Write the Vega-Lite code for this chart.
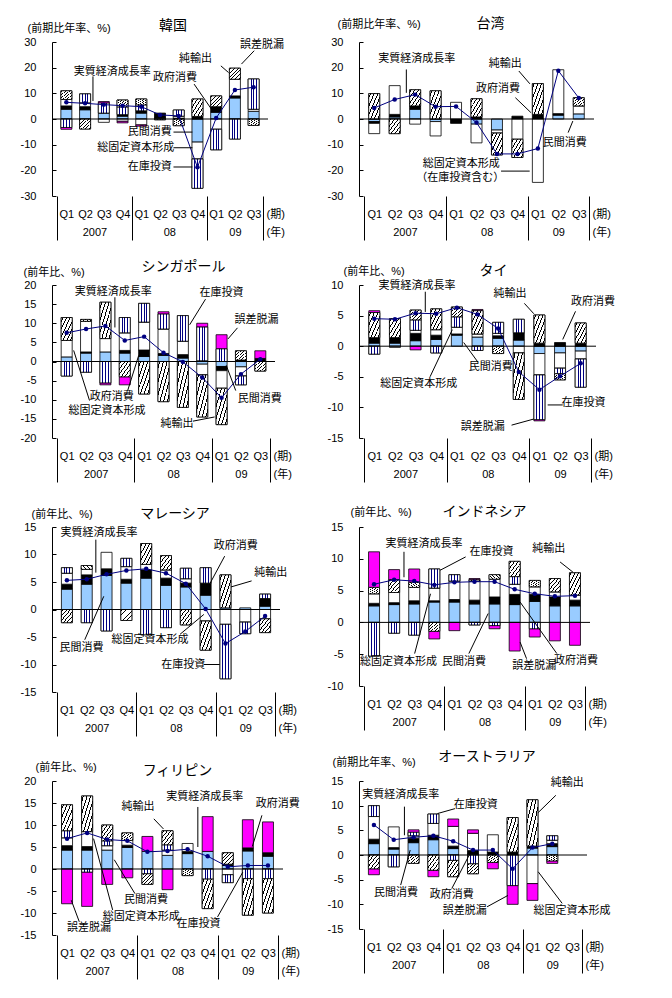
{
"$schema": "https://vega.github.io/schema/vega-lite/v6.json",
"autosize": {"type": "pad"},
"padding": {"left": 20, "top": 17, "right": 5, "bottom": 5},
"config": {
  "font": "Liberation Sans, Noto Sans CJK JP",
  "view": {"stroke": null},
  "axis": {"domainColor": "black", "tickColor": "black", "labelColor": "black", "titleColor": "black", "labelFontSize": 11, "titleFontSize": 11, "titleFontWeight": "normal", "grid": false, "labelOverlap": false},
  "axisY": {"tickSize": -4, "labelPadding": 20, "titleAngle": 0, "titleAlign": "left", "titleBaseline": "middle", "domainColor": "black"},
  "title": {"fontSize": 14, "fontWeight": "normal", "color": "black", "anchor": "middle", "frame": "group"},
  "text": {"fontSize": 11}
},
"datasets": {
  "comp": [{"k":"民間","o":1},{"k":"政府","o":2},{"k":"固定","o":3},{"k":"在庫","o":4},{"k":"純輸出","o":5},{"k":"誤差","o":6}],
  "bars": [
{"c":"韓国","i":0,"k":"民間","v":3.8},{"c":"韓国","i":0,"k":"政府","v":1.3},{"c":"韓国","i":0,"k":"固定","v":2.5},{"c":"韓国","i":0,"k":"在庫","v":-3.3},{"c":"韓国","i":0,"k":"純輸出","v":3.4},{"c":"韓国","i":0,"k":"誤差","v":-0.7},
{"c":"韓国","i":1,"k":"民間","v":3.6},{"c":"韓国","i":1,"k":"政府","v":1.2},{"c":"韓国","i":1,"k":"固定","v":1.5},{"c":"韓国","i":1,"k":"在庫","v":3.5},{"c":"韓国","i":1,"k":"純輸出","v":-3.9},
{"c":"韓国","i":2,"k":"民間","v":2.3},{"c":"韓国","i":2,"k":"固定","v":-1.3},{"c":"韓国","i":2,"k":"在庫","v":3.9},{"c":"韓国","i":2,"k":"誤差","v":0.6},
{"c":"韓国","i":3,"k":"民間","v":1.1},{"c":"韓国","i":3,"k":"政府","v":0.6},{"c":"韓国","i":3,"k":"固定","v":-0.9},{"c":"韓国","i":3,"k":"在庫","v":3.0},{"c":"韓国","i":3,"k":"純輸出","v":2.7},{"c":"韓国","i":3,"k":"誤差","v":-0.6},
{"c":"韓国","i":4,"k":"民間","v":2.3},{"c":"韓国","i":4,"k":"政府","v":0.9},{"c":"韓国","i":4,"k":"固定","v":-2.3},{"c":"韓国","i":4,"k":"在庫","v":2.3},{"c":"韓国","i":4,"k":"純輸出","v":2.3},{"c":"韓国","i":4,"k":"誤差","v":-0.5},
{"c":"韓国","i":5,"k":"民間","v":0.4},{"c":"韓国","i":5,"k":"政府","v":1.9},{"c":"韓国","i":5,"k":"在庫","v":-0.3},
{"c":"韓国","i":6,"k":"民間","v":0.3},{"c":"韓国","i":6,"k":"固定","v":0.8},{"c":"韓国","i":6,"k":"在庫","v":2.4},{"c":"韓国","i":6,"k":"純輸出","v":-2.6},
{"c":"韓国","i":7,"k":"民間","v":-9.0},{"c":"韓国","i":7,"k":"政府","v":1.0},{"c":"韓国","i":7,"k":"固定","v":-6.6},{"c":"韓国","i":7,"k":"在庫","v":-11.4},{"c":"韓国","i":7,"k":"純輸出","v":6.8},
{"c":"韓国","i":8,"k":"民間","v":2.6},{"c":"韓国","i":8,"k":"政府","v":2.2},{"c":"韓国","i":8,"k":"固定","v":-4.0},{"c":"韓国","i":8,"k":"在庫","v":-8.0},{"c":"韓国","i":8,"k":"純輸出","v":4.2},
{"c":"韓国","i":9,"k":"民間","v":8.2},{"c":"韓国","i":9,"k":"政府","v":0.8},{"c":"韓国","i":9,"k":"固定","v":6.5},{"c":"韓国","i":9,"k":"在庫","v":-7.8},{"c":"韓国","i":9,"k":"純輸出","v":4.3},
{"c":"韓国","i":10,"k":"民間","v":3.0},{"c":"韓国","i":10,"k":"固定","v":0.8},{"c":"韓国","i":10,"k":"在庫","v":11.8},{"c":"韓国","i":10,"k":"純輸出","v":-2.5},
{"c":"台湾","i":0,"k":"民間","v":-1.0},{"c":"台湾","i":0,"k":"政府","v":-0.7},{"c":"台湾","i":0,"k":"固定","v":-4.0},{"c":"台湾","i":0,"k":"純輸出","v":9.9},
{"c":"台湾","i":1,"k":"民間","v":0.8},{"c":"台湾","i":1,"k":"政府","v":1.0},{"c":"台湾","i":1,"k":"固定","v":11.2},{"c":"台湾","i":1,"k":"純輸出","v":-5.7},
{"c":"台湾","i":2,"k":"民間","v":3.8},{"c":"台湾","i":2,"k":"政府","v":1.3},{"c":"台湾","i":2,"k":"固定","v":-2.0},{"c":"台湾","i":2,"k":"純輸出","v":6.3},
{"c":"台湾","i":3,"k":"民間","v":-1.0},{"c":"台湾","i":3,"k":"固定","v":-5.6},{"c":"台湾","i":3,"k":"純輸出","v":11.0},
{"c":"台湾","i":4,"k":"政府","v":-1.7},{"c":"台湾","i":4,"k":"固定","v":6.5},
{"c":"台湾","i":5,"k":"民間","v":-2.0},{"c":"台湾","i":5,"k":"政府","v":0.8},{"c":"台湾","i":5,"k":"固定","v":-7.3},{"c":"台湾","i":5,"k":"純輸出","v":7.1},
{"c":"台湾","i":6,"k":"民間","v":-4.3},{"c":"台湾","i":6,"k":"固定","v":-1.2},{"c":"台湾","i":6,"k":"純輸出","v":-8.5},
{"c":"台湾","i":7,"k":"政府","v":1.1},{"c":"台湾","i":7,"k":"固定","v":-7.9},{"c":"台湾","i":7,"k":"純輸出","v":-7.1},
{"c":"台湾","i":8,"k":"政府","v":1.8},{"c":"台湾","i":8,"k":"固定","v":-24.7},{"c":"台湾","i":8,"k":"純輸出","v":12.0},
{"c":"台湾","i":9,"k":"民間","v":1.5},{"c":"台湾","i":9,"k":"政府","v":0.6},{"c":"台湾","i":9,"k":"固定","v":17.1},
{"c":"台湾","i":10,"k":"民間","v":2.0},{"c":"台湾","i":10,"k":"固定","v":3.1},{"c":"台湾","i":10,"k":"純輸出","v":3.2},
{"c":"シンガポール","i":0,"k":"民間","v":1.2},{"c":"シンガポール","i":0,"k":"固定","v":4.3},{"c":"シンガポール","i":0,"k":"在庫","v":-3.8},{"c":"シンガポール","i":0,"k":"純輸出","v":6.0},
{"c":"シンガポール","i":1,"k":"民間","v":2.2},{"c":"シンガポール","i":1,"k":"政府","v":0.3},{"c":"シンガポール","i":1,"k":"固定","v":8.0},{"c":"シンガポール","i":1,"k":"在庫","v":-2.8},{"c":"シンガポール","i":1,"k":"純輸出","v":0.5},
{"c":"シンガポール","i":2,"k":"民間","v":2.5},{"c":"シンガポール","i":2,"k":"固定","v":3.5},{"c":"シンガポール","i":2,"k":"在庫","v":-5.6},{"c":"シンガポール","i":2,"k":"純輸出","v":9.5},{"c":"シンガポール","i":2,"k":"誤差","v":-0.5},
{"c":"シンガポール","i":3,"k":"民間","v":2.2},{"c":"シンガポール","i":3,"k":"政府","v":0.7},{"c":"シンガポール","i":3,"k":"固定","v":4.6},{"c":"シンガポール","i":3,"k":"在庫","v":4.0},{"c":"シンガポール","i":3,"k":"純輸出","v":-4.0},{"c":"シンガポール","i":3,"k":"誤差","v":-2.1},
{"c":"シンガポール","i":4,"k":"民間","v":1.3},{"c":"シンガポール","i":4,"k":"政府","v":1.7},{"c":"シンガポール","i":4,"k":"固定","v":7.3},{"c":"シンガポール","i":4,"k":"在庫","v":4.9},{"c":"シンガポール","i":4,"k":"純輸出","v":-8.5},
{"c":"シンガポール","i":5,"k":"民間","v":1.6},{"c":"シンガポール","i":5,"k":"政府","v":0.5},{"c":"シンガポール","i":5,"k":"固定","v":6.4},{"c":"シンガポール","i":5,"k":"在庫","v":3.9},{"c":"シンガポール","i":5,"k":"純輸出","v":-10.5},{"c":"シンガポール","i":5,"k":"誤差","v":0.6},
{"c":"シンガポール","i":6,"k":"民間","v":0.9},{"c":"シンガポール","i":6,"k":"政府","v":0.9},{"c":"シンガポール","i":6,"k":"固定","v":3.5},{"c":"シンガポール","i":6,"k":"在庫","v":6.7},{"c":"シンガポール","i":6,"k":"純輸出","v":-12.0},
{"c":"シンガポール","i":7,"k":"民間","v":-0.7},{"c":"シンガポール","i":7,"k":"政府","v":0.2},{"c":"シンガポール","i":7,"k":"固定","v":-2.8},{"c":"シンガポール","i":7,"k":"在庫","v":8.8},{"c":"シンガポール","i":7,"k":"純輸出","v":-11.0},{"c":"シンガポール","i":7,"k":"誤差","v":1.0},
{"c":"シンガポール","i":8,"k":"民間","v":-1.3},{"c":"シンガポール","i":8,"k":"政府","v":-1.1},{"c":"シンガポール","i":8,"k":"固定","v":-4.6},{"c":"シンガポール","i":8,"k":"在庫","v":3.3},{"c":"シンガポール","i":8,"k":"純輸出","v":-9.5},{"c":"シンガポール","i":8,"k":"誤差","v":3.7},
{"c":"シンガポール","i":9,"k":"民間","v":-1.4},{"c":"シンガポール","i":9,"k":"政府","v":0.4},{"c":"シンガポール","i":9,"k":"固定","v":-2.4},{"c":"シンガポール","i":9,"k":"在庫","v":-2.3},{"c":"シンガポール","i":9,"k":"純輸出","v":2.4},
{"c":"シンガポール","i":10,"k":"政府","v":0.8},{"c":"シンガポール","i":10,"k":"純輸出","v":-2.5},{"c":"シンガポール","i":10,"k":"誤差","v":2.0},
{"c":"タイ","i":0,"k":"民間","v":0.5},{"c":"タイ","i":0,"k":"政府","v":0.9},{"c":"タイ","i":0,"k":"在庫","v":-1.3},{"c":"タイ","i":0,"k":"純輸出","v":4.1},{"c":"タイ","i":0,"k":"誤差","v":0.3},
{"c":"タイ","i":1,"k":"民間","v":0.5},{"c":"タイ","i":1,"k":"政府","v":0.9},{"c":"タイ","i":1,"k":"固定","v":-0.2},{"c":"タイ","i":1,"k":"純輸出","v":3.1},
{"c":"タイ","i":2,"k":"民間","v":0.9},{"c":"タイ","i":2,"k":"政府","v":1.2},{"c":"タイ","i":2,"k":"固定","v":0.5},{"c":"タイ","i":2,"k":"在庫","v":1.7},{"c":"タイ","i":2,"k":"純輸出","v":1.6},{"c":"タイ","i":2,"k":"誤差","v":-0.6},
{"c":"タイ","i":3,"k":"民間","v":1.1},{"c":"タイ","i":3,"k":"政府","v":0.7},{"c":"タイ","i":3,"k":"固定","v":0.9},{"c":"タイ","i":3,"k":"在庫","v":-1.1},{"c":"タイ","i":3,"k":"純輸出","v":3.4},
{"c":"タイ","i":4,"k":"民間","v":1.8},{"c":"タイ","i":4,"k":"政府","v":0.2},{"c":"タイ","i":4,"k":"固定","v":1.1},{"c":"タイ","i":4,"k":"在庫","v":1.7},{"c":"タイ","i":4,"k":"純輸出","v":1.6},
{"c":"タイ","i":5,"k":"民間","v":1.5},{"c":"タイ","i":5,"k":"固定","v":0.5},{"c":"タイ","i":5,"k":"在庫","v":-0.7},{"c":"タイ","i":5,"k":"純輸出","v":3.8},{"c":"タイ","i":5,"k":"誤差","v":0.2},
{"c":"タイ","i":6,"k":"民間","v":1.3},{"c":"タイ","i":6,"k":"政府","v":0.4},{"c":"タイ","i":6,"k":"固定","v":0.4},{"c":"タイ","i":6,"k":"在庫","v":1.8},{"c":"タイ","i":6,"k":"純輸出","v":-1.2},
{"c":"タイ","i":7,"k":"民間","v":1.0},{"c":"タイ","i":7,"k":"政府","v":1.2},{"c":"タイ","i":7,"k":"固定","v":-1.1},{"c":"タイ","i":7,"k":"在庫","v":2.2},{"c":"タイ","i":7,"k":"純輸出","v":-7.6},
{"c":"タイ","i":8,"k":"民間","v":-1.2},{"c":"タイ","i":8,"k":"政府","v":0.5},{"c":"タイ","i":8,"k":"固定","v":-3.5},{"c":"タイ","i":8,"k":"在庫","v":-7.3},{"c":"タイ","i":8,"k":"純輸出","v":4.6},{"c":"タイ","i":8,"k":"誤差","v":-0.2},
{"c":"タイ","i":9,"k":"民間","v":-1.1},{"c":"タイ","i":9,"k":"政府","v":0.6},{"c":"タイ","i":9,"k":"固定","v":-2.5},{"c":"タイ","i":9,"k":"在庫","v":-0.9},{"c":"タイ","i":9,"k":"純輸出","v":-1.0},
{"c":"タイ","i":10,"k":"民間","v":-0.8},{"c":"タイ","i":10,"k":"政府","v":0.5},{"c":"タイ","i":10,"k":"固定","v":-1.3},{"c":"タイ","i":10,"k":"在庫","v":-4.6},{"c":"タイ","i":10,"k":"純輸出","v":3.3},
{"c":"マレーシア","i":0,"k":"民間","v":3.7},{"c":"マレーシア","i":0,"k":"政府","v":0.9},{"c":"マレーシア","i":0,"k":"固定","v":2.0},{"c":"マレーシア","i":0,"k":"在庫","v":1.0},{"c":"マレーシア","i":0,"k":"純輸出","v":-2.4},
{"c":"マレーシア","i":1,"k":"民間","v":4.6},{"c":"マレーシア","i":1,"k":"政府","v":1.7},{"c":"マレーシア","i":1,"k":"固定","v":1.0},{"c":"マレーシア","i":1,"k":"在庫","v":-2.4},{"c":"マレーシア","i":1,"k":"純輸出","v":0.7},
{"c":"マレーシア","i":2,"k":"民間","v":6.2},{"c":"マレーシア","i":2,"k":"政府","v":1.2},{"c":"マレーシア","i":2,"k":"固定","v":3.0},{"c":"マレーシア","i":2,"k":"在庫","v":-3.9},
{"c":"マレーシア","i":3,"k":"民間","v":4.8},{"c":"マレーシア","i":3,"k":"政府","v":0.7},{"c":"マレーシア","i":3,"k":"固定","v":2.3},{"c":"マレーシア","i":3,"k":"在庫","v":1.5},{"c":"マレーシア","i":3,"k":"純輸出","v":-2.0},
{"c":"マレーシア","i":4,"k":"民間","v":5.7},{"c":"マレーシア","i":4,"k":"政府","v":1.5},{"c":"マレーシア","i":4,"k":"固定","v":1.0},{"c":"マレーシア","i":4,"k":"在庫","v":-4.6},{"c":"マレーシア","i":4,"k":"純輸出","v":3.8},
{"c":"マレーシア","i":5,"k":"民間","v":4.4},{"c":"マレーシア","i":5,"k":"政府","v":1.3},{"c":"マレーシア","i":5,"k":"固定","v":1.5},{"c":"マレーシア","i":5,"k":"在庫","v":-3.3},{"c":"マレーシア","i":5,"k":"純輸出","v":2.6},
{"c":"マレーシア","i":6,"k":"民間","v":4.1},{"c":"マレーシア","i":6,"k":"政府","v":0.7},{"c":"マレーシア","i":6,"k":"固定","v":0.8},{"c":"マレーシア","i":6,"k":"在庫","v":1.9},{"c":"マレーシア","i":6,"k":"純輸出","v":-2.8},
{"c":"マレーシア","i":7,"k":"民間","v":2.6},{"c":"マレーシア","i":7,"k":"政府","v":2.2},{"c":"マレーシア","i":7,"k":"固定","v":-2.1},{"c":"マレーシア","i":7,"k":"在庫","v":2.8},{"c":"マレーシア","i":7,"k":"純輸出","v":-5.3},
{"c":"マレーシア","i":8,"k":"民間","v":0.3},{"c":"マレーシア","i":8,"k":"固定","v":-2.7},{"c":"マレーシア","i":8,"k":"在庫","v":-9.9},{"c":"マレーシア","i":8,"k":"純輸出","v":6.0},
{"c":"マレーシア","i":9,"k":"民間","v":0.3},{"c":"マレーシア","i":9,"k":"固定","v":-2.3},{"c":"マレーシア","i":9,"k":"在庫","v":-2.1},
{"c":"マレーシア","i":10,"k":"民間","v":0.6},{"c":"マレーシア","i":10,"k":"政府","v":1.4},{"c":"マレーシア","i":10,"k":"固定","v":-1.7},{"c":"マレーシア","i":10,"k":"在庫","v":0.8},{"c":"マレーシア","i":10,"k":"純輸出","v":-2.5},
{"c":"インドネシア","i":0,"k":"民間","v":2.6},{"c":"インドネシア","i":0,"k":"政府","v":0.4},{"c":"インドネシア","i":0,"k":"固定","v":1.5},{"c":"インドネシア","i":0,"k":"在庫","v":-5.3},{"c":"インドネシア","i":0,"k":"純輸出","v":1.0},{"c":"インドネシア","i":0,"k":"誤差","v":5.6},
{"c":"インドネシア","i":1,"k":"民間","v":2.8},{"c":"インドネシア","i":1,"k":"政府","v":0.3},{"c":"インドネシア","i":1,"k":"固定","v":1.6},{"c":"インドネシア","i":1,"k":"在庫","v":-1.7},{"c":"インドネシア","i":1,"k":"純輸出","v":2.0},{"c":"インドネシア","i":1,"k":"誤差","v":1.6},
{"c":"インドネシア","i":2,"k":"民間","v":2.9},{"c":"インドネシア","i":2,"k":"政府","v":0.5},{"c":"インドネシア","i":2,"k":"固定","v":2.1},{"c":"インドネシア","i":2,"k":"在庫","v":-2.0},{"c":"インドネシア","i":2,"k":"純輸出","v":0.8},{"c":"インドネシア","i":2,"k":"誤差","v":2.1},
{"c":"インドネシア","i":3,"k":"民間","v":3.2},{"c":"インドネシア","i":3,"k":"政府","v":0.2},{"c":"インドネシア","i":3,"k":"固定","v":2.0},{"c":"インドネシア","i":3,"k":"在庫","v":3.0},{"c":"インドネシア","i":3,"k":"純輸出","v":-1.4},{"c":"インドネシア","i":3,"k":"誤差","v":-1.2},
{"c":"インドネシア","i":4,"k":"民間","v":3.2},{"c":"インドネシア","i":4,"k":"政府","v":0.4},{"c":"インドネシア","i":4,"k":"固定","v":2.9},{"c":"インドネシア","i":4,"k":"在庫","v":1.0},{"c":"インドネシア","i":4,"k":"誤差","v":-1.3},
{"c":"インドネシア","i":5,"k":"民間","v":2.9},{"c":"インドネシア","i":5,"k":"政府","v":0.6},{"c":"インドネシア","i":5,"k":"固定","v":3.0},{"c":"インドネシア","i":5,"k":"在庫","v":-0.4},{"c":"インドネシア","i":5,"k":"純輸出","v":0.2},{"c":"インドネシア","i":5,"k":"誤差","v":0.2},
{"c":"インドネシア","i":6,"k":"民間","v":2.9},{"c":"インドネシア","i":6,"k":"政府","v":1.1},{"c":"インドネシア","i":6,"k":"固定","v":2.8},{"c":"インドネシア","i":6,"k":"在庫","v":-0.5},{"c":"インドネシア","i":6,"k":"純輸出","v":0.7},{"c":"インドネシア","i":6,"k":"誤差","v":-0.5},
{"c":"インドネシア","i":7,"k":"民間","v":2.8},{"c":"インドネシア","i":7,"k":"政府","v":1.6},{"c":"インドネシア","i":7,"k":"固定","v":1.6},{"c":"インドネシア","i":7,"k":"在庫","v":1.2},{"c":"インドネシア","i":7,"k":"純輸出","v":2.4},{"c":"インドネシア","i":7,"k":"誤差","v":-4.5},
{"c":"インドネシア","i":8,"k":"民間","v":3.3},{"c":"インドネシア","i":8,"k":"政府","v":1.1},{"c":"インドネシア","i":8,"k":"固定","v":1.2},{"c":"インドネシア","i":8,"k":"在庫","v":-1.0},{"c":"インドネシア","i":8,"k":"純輸出","v":1.0},{"c":"インドネシア","i":8,"k":"誤差","v":-1.3},
{"c":"インドネシア","i":9,"k":"民間","v":2.6},{"c":"インドネシア","i":9,"k":"政府","v":1.4},{"c":"インドネシア","i":9,"k":"固定","v":0.8},{"c":"インドネシア","i":9,"k":"純輸出","v":2.1},{"c":"インドネシア","i":9,"k":"誤差","v":-2.9},
{"c":"インドネシア","i":10,"k":"民間","v":2.6},{"c":"インドネシア","i":10,"k":"政府","v":0.9},{"c":"インドネシア","i":10,"k":"固定","v":0.8},{"c":"インドネシア","i":10,"k":"純輸出","v":3.5},{"c":"インドネシア","i":10,"k":"誤差","v":-3.6},
{"c":"フィリピン","i":0,"k":"民間","v":4.3},{"c":"フィリピン","i":0,"k":"政府","v":1.0},{"c":"フィリピン","i":0,"k":"固定","v":1.8},{"c":"フィリピン","i":0,"k":"在庫","v":1.6},{"c":"フィリピン","i":0,"k":"純輸出","v":5.9},{"c":"フィリピン","i":0,"k":"誤差","v":-7.9},
{"c":"フィリピン","i":1,"k":"民間","v":4.3},{"c":"フィリピン","i":1,"k":"政府","v":0.8},{"c":"フィリピン","i":1,"k":"固定","v":3.4},{"c":"フィリピン","i":1,"k":"在庫","v":-0.7},{"c":"フィリピン","i":1,"k":"純輸出","v":8.1},{"c":"フィリピン","i":1,"k":"誤差","v":-7.8},
{"c":"フィリピン","i":2,"k":"民間","v":4.3},{"c":"フィリピン","i":2,"k":"固定","v":1.0},{"c":"フィリピン","i":2,"k":"在庫","v":1.1},{"c":"フィリピン","i":2,"k":"純輸出","v":3.6},{"c":"フィリピン","i":2,"k":"誤差","v":-3.5},
{"c":"フィリピン","i":3,"k":"民間","v":4.9},{"c":"フィリピン","i":3,"k":"政府","v":0.5},{"c":"フィリピン","i":3,"k":"固定","v":1.1},{"c":"フィリピン","i":3,"k":"純輸出","v":1.7},{"c":"フィリピン","i":3,"k":"誤差","v":-2.0},
{"c":"フィリピン","i":4,"k":"民間","v":4.0},{"c":"フィリピン","i":4,"k":"在庫","v":-1.1},{"c":"フィリピン","i":4,"k":"純輸出","v":-2.4},{"c":"フィリピン","i":4,"k":"誤差","v":3.4},
{"c":"フィリピン","i":5,"k":"民間","v":3.1},{"c":"フィリピン","i":5,"k":"固定","v":1.2},{"c":"フィリピン","i":5,"k":"在庫","v":1.2},{"c":"フィリピン","i":5,"k":"純輸出","v":3.2},{"c":"フィリピン","i":5,"k":"誤差","v":-4.7},
{"c":"フィリピン","i":6,"k":"民間","v":3.5},{"c":"フィリピン","i":6,"k":"政府","v":0.5},{"c":"フィリピン","i":6,"k":"固定","v":1.8},{"c":"フィリピン","i":6,"k":"純輸出","v":-1.5},
{"c":"フィリピン","i":7,"k":"民間","v":4.0},{"c":"フィリピン","i":7,"k":"在庫","v":-2.3},{"c":"フィリピン","i":7,"k":"純輸出","v":-6.7},{"c":"フィリピン","i":7,"k":"誤差","v":7.9},
{"c":"フィリピン","i":8,"k":"民間","v":0.8},{"c":"フィリピン","i":8,"k":"政府","v":0.3},{"c":"フィリピン","i":8,"k":"固定","v":-1.3},{"c":"フィリピン","i":8,"k":"在庫","v":-1.8},{"c":"フィリピン","i":8,"k":"純輸出","v":2.6},
{"c":"フィリピン","i":9,"k":"民間","v":4.1},{"c":"フィリピン","i":9,"k":"政府","v":0.7},{"c":"フィリピン","i":9,"k":"在庫","v":-2.2},{"c":"フィリピン","i":9,"k":"純輸出","v":-8.3},{"c":"フィリピン","i":9,"k":"誤差","v":6.4},
{"c":"フィリピン","i":10,"k":"民間","v":2.9},{"c":"フィリピン","i":10,"k":"政府","v":0.8},{"c":"フィリピン","i":10,"k":"在庫","v":-2.2},{"c":"フィリピン","i":10,"k":"純輸出","v":-7.8},{"c":"フィリピン","i":10,"k":"誤差","v":7.0},
{"c":"オーストラリア","i":0,"k":"民間","v":2.3},{"c":"オーストラリア","i":0,"k":"政府","v":0.9},{"c":"オーストラリア","i":0,"k":"固定","v":4.6},{"c":"オーストラリア","i":0,"k":"在庫","v":2.2},{"c":"オーストラリア","i":0,"k":"純輸出","v":-2.8},{"c":"オーストラリア","i":0,"k":"誤差","v":-1.2},
{"c":"オーストラリア","i":1,"k":"民間","v":1.2},{"c":"オーストラリア","i":1,"k":"政府","v":0.3},{"c":"オーストラリア","i":1,"k":"固定","v":4.2},{"c":"オーストラリア","i":1,"k":"在庫","v":-2.4},
{"c":"オーストラリア","i":2,"k":"民間","v":2.5},{"c":"オーストラリア","i":2,"k":"政府","v":0.9},{"c":"オーストラリア","i":2,"k":"固定","v":0.5},{"c":"オーストラリア","i":2,"k":"在庫","v":0.7},{"c":"オーストラリア","i":2,"k":"純輸出","v":-1.7},{"c":"オーストラリア","i":2,"k":"誤差","v":0.5},
{"c":"オーストラリア","i":3,"k":"民間","v":3.1},{"c":"オーストラリア","i":3,"k":"政府","v":0.9},{"c":"オーストラリア","i":3,"k":"固定","v":2.4},{"c":"オーストラリア","i":3,"k":"在庫","v":1.9},{"c":"オーストラリア","i":3,"k":"純輸出","v":-3.1},{"c":"オーストラリア","i":3,"k":"誤差","v":-1.3},
{"c":"オーストラリア","i":4,"k":"民間","v":1.3},{"c":"オーストラリア","i":4,"k":"政府","v":0.5},{"c":"オーストラリア","i":4,"k":"固定","v":4.0},{"c":"オーストラリア","i":4,"k":"在庫","v":-1.1},{"c":"オーストラリア","i":4,"k":"純輸出","v":-3.3},{"c":"オーストラリア","i":4,"k":"誤差","v":1.5},
{"c":"オーストラリア","i":5,"k":"民間","v":0.2},{"c":"オーストラリア","i":5,"k":"政府","v":0.7},{"c":"オーストラリア","i":5,"k":"固定","v":3.5},{"c":"オーストラリア","i":5,"k":"在庫","v":-1.8},{"c":"オーストラリア","i":5,"k":"純輸出","v":-2.0},{"c":"オーストラリア","i":5,"k":"誤差","v":0.7},
{"c":"オーストラリア","i":6,"k":"政府","v":0.6},{"c":"オーストラリア","i":6,"k":"固定","v":3.5},{"c":"オーストラリア","i":6,"k":"純輸出","v":-1.5},{"c":"オーストラリア","i":6,"k":"誤差","v":-1.3},
{"c":"オーストラリア","i":7,"k":"政府","v":0.6},{"c":"オーストラリア","i":7,"k":"在庫","v":-6.2},{"c":"オーストラリア","i":7,"k":"純輸出","v":7.0},{"c":"オーストラリア","i":7,"k":"誤差","v":-3.8},
{"c":"オーストラリア","i":8,"k":"民間","v":1.4},{"c":"オーストラリア","i":8,"k":"政府","v":0.4},{"c":"オーストラリア","i":8,"k":"固定","v":-5.8},{"c":"オーストラリア","i":8,"k":"純輸出","v":9.4},{"c":"オーストラリア","i":8,"k":"誤差","v":-3.4},
{"c":"オーストラリア","i":9,"k":"民間","v":1.7},{"c":"オーストラリア","i":9,"k":"政府","v":0.6},{"c":"オーストラリア","i":9,"k":"固定","v":0.7},{"c":"オーストラリア","i":9,"k":"在庫","v":0.9},{"c":"オーストラリア","i":9,"k":"純輸出","v":-1.2},{"c":"オーストラリア","i":9,"k":"誤差","v":-0.5}
  ],
  "g": [
{"c":"韓国","i":0,"g":6.5},{"c":"韓国","i":1,"g":6.1},{"c":"韓国","i":2,"g":5.6},{"c":"韓国","i":3,"g":5.2},{"c":"韓国","i":4,"g":4.8},{"c":"韓国","i":5,"g":1.6},{"c":"韓国","i":6,"g":1.2},{"c":"韓国","i":7,"g":-18.8},{"c":"韓国","i":8,"g":0.4},{"c":"韓国","i":9,"g":11.3},{"c":"韓国","i":10,"g":12.4},
{"c":"台湾","i":0,"g":4.3},{"c":"台湾","i":1,"g":7.6},{"c":"台湾","i":2,"g":9.5},{"c":"台湾","i":3,"g":4.8},{"c":"台湾","i":4,"g":4.9},{"c":"台湾","i":5,"g":-1.4},{"c":"台湾","i":6,"g":-13.6},{"c":"台湾","i":7,"g":-13.6},{"c":"台湾","i":8,"g":-11.5},{"c":"台湾","i":9,"g":18.8},{"c":"台湾","i":10,"g":8.2},
{"c":"シンガポール","i":0,"g":7.5},{"c":"シンガポール","i":1,"g":8.5},{"c":"シンガポール","i":2,"g":9.3},{"c":"シンガポール","i":3,"g":5.5},{"c":"シンガポール","i":4,"g":6.5},{"c":"シンガポール","i":5,"g":2.3},{"c":"シンガポール","i":6,"g":-0.1},{"c":"シンガポール","i":7,"g":-4.2},{"c":"シンガポール","i":8,"g":-9.5},{"c":"シンガポール","i":9,"g":-3.3},{"c":"シンガポール","i":10,"g":0.6},
{"c":"タイ","i":0,"g":4.5},{"c":"タイ","i":1,"g":4.4},{"c":"タイ","i":2,"g":5.4},{"c":"タイ","i":3,"g":5.3},{"c":"タイ","i":4,"g":6.3},{"c":"タイ","i":5,"g":5.2},{"c":"タイ","i":6,"g":2.9},{"c":"タイ","i":7,"g":-4.2},{"c":"タイ","i":8,"g":-7.1},{"c":"タイ","i":9,"g":-4.9},{"c":"タイ","i":10,"g":-2.8},
{"c":"マレーシア","i":0,"g":5.3},{"c":"マレーシア","i":1,"g":5.5},{"c":"マレーシア","i":2,"g":6.4},{"c":"マレーシア","i":3,"g":7.1},{"c":"マレーシア","i":4,"g":7.4},{"c":"マレーシア","i":5,"g":6.6},{"c":"マレーシア","i":6,"g":4.7},{"c":"マレーシア","i":7,"g":0.1},{"c":"マレーシア","i":8,"g":-6.2},{"c":"マレーシア","i":9,"g":-4.0},{"c":"マレーシア","i":10,"g":-1.2},
{"c":"インドネシア","i":0,"g":6.0},{"c":"インドネシア","i":1,"g":6.7},{"c":"インドネシア","i":2,"g":6.5},{"c":"インドネシア","i":3,"g":5.9},{"c":"インドネシア","i":4,"g":6.3},{"c":"インドネシア","i":5,"g":6.4},{"c":"インドネシア","i":6,"g":6.4},{"c":"インドネシア","i":7,"g":5.2},{"c":"インドネシア","i":8,"g":4.5},{"c":"インドネシア","i":9,"g":4.1},{"c":"インドネシア","i":10,"g":4.2},
{"c":"フィリピン","i":0,"g":6.9},{"c":"フィリピン","i":1,"g":8.2},{"c":"フィリピン","i":2,"g":6.7},{"c":"フィリピン","i":3,"g":6.4},{"c":"フィリピン","i":4,"g":3.9},{"c":"フィリピン","i":5,"g":4.1},{"c":"フィリピン","i":6,"g":4.5},{"c":"フィリピン","i":7,"g":2.9},{"c":"フィリピン","i":8,"g":0.5},{"c":"フィリピン","i":9,"g":0.8},{"c":"フィリピン","i":10,"g":0.8},
{"c":"オーストラリア","i":0,"g":6.1},{"c":"オーストラリア","i":1,"g":3.1},{"c":"オーストラリア","i":2,"g":3.6},{"c":"オーストラリア","i":3,"g":3.9},{"c":"オーストラリア","i":4,"g":2.8},{"c":"オーストラリア","i":5,"g":1.0},{"c":"オーストラリア","i":6,"g":1.0},{"c":"オーストラリア","i":7,"g":-2.8},{"c":"オーストラリア","i":8,"g":1.5},{"c":"オーストラリア","i":9,"g":2.3}
  ],
  "notes": [
{"c":"韓国","t":"実質経済成長率","tx":2.45,"ty":18.5,"x1":1.42,"y1":16.6,"x2":1.42,"y2":7.0},
{"c":"韓国","t":"政府消費","tx":5.8,"ty":15.9,"x1":6.82,"y1":13.6,"x2":7.75,"y2":3.8},
{"c":"韓国","t":"純輸出","tx":6.9,"ty":23.4,"x1":8.25,"y1":20.7,"x2":8.66,"y2":18.1},
{"c":"韓国","t":"誤差脱漏","tx":10.45,"ty":28.8,"x1":10.03,"y1":26.6,"x2":9.35,"y2":21.4},
{"c":"韓国","t":"民間消費","tx":4.45,"ty":-4.9,"x1":5.72,"y1":-5.1,"x2":6.73,"y2":-5.1},
{"c":"韓国","t":"総固定資本形成","tx":3.7,"ty":-11.2,"x1":5.72,"y1":-11.2,"x2":6.73,"y2":-11.2},
{"c":"韓国","t":"在庫投資","tx":4.45,"ty":-18.7,"x1":5.72,"y1":-18.7,"x2":6.73,"y2":-18.7},
{"c":"台湾","t":"実質経済成長率","tx":2.08,"ty":23.2,"x1":1.57,"y1":19.3,"x2":1.57,"y2":10.2},
{"c":"台湾","t":"純輸出","tx":6.41,"ty":21.3,"x1":7.07,"y1":18.7,"x2":7.61,"y2":13.7},
{"c":"台湾","t":"政府消費","tx":6.05,"ty":11.5,"x1":6.9,"y1":8.3,"x2":7.66,"y2":2.5},
{"c":"台湾","t":"民間消費","tx":9.32,"ty":-9.2,"x1":9.48,"y1":-5.3,"x2":9.71,"y2":-0.8},
{"c":"台湾","t":"総固定資本形成","tx":4.26,"ty":-17.7,"x1":6.2,"y1":-20.3,"x2":7.6,"y2":-20.3},
{"c":"台湾","t":"（在庫投資含む）","tx":4.2,"ty":-22.9},
{"c":"シンガポール","t":"実質経済成長率","tx":2.41,"ty":18.3,"x1":2.49,"y1":16.8,"x2":2.49,"y2":8.9},
{"c":"シンガポール","t":"在庫投資","tx":8.0,"ty":17.8,"x1":7.17,"y1":16.3,"x2":6.35,"y2":9.6},
{"c":"シンガポール","t":"誤差脱漏","tx":9.8,"ty":10.9,"x1":8.82,"y1":8.8,"x2":8.33,"y2":5.9},
{"c":"シンガポール","t":"政府消費","tx":2.33,"ty":-9.3,"x1":3.15,"y1":-7.6,"x2":3.72,"y2":1.6},
{"c":"シンガポール","t":"総固定資本形成","tx":2.08,"ty":-13.0,"x1":1.18,"y1":-10.2,"x2":0.36,"y2":2.9},
{"c":"シンガポール","t":"民間消費","tx":9.97,"ty":-9.7,"x1":8.73,"y1":-7.6,"x2":8.24,"y2":-1.0},
{"c":"シンガポール","t":"純輸出","tx":5.7,"ty":-16.3,"x1":6.52,"y1":-15.6,"x2":7.64,"y2":-14.5},
{"c":"タイ","t":"実質経済成長率","tx":2.07,"ty":9.9,"x1":2.47,"y1":8.9,"x2":2.47,"y2":5.6},
{"c":"タイ","t":"純輸出","tx":6.57,"ty":8.6,"x1":7.27,"y1":7.0,"x2":7.73,"y2":5.3},
{"c":"タイ","t":"政府消費","tx":10.6,"ty":7.3,"x1":9.75,"y1":5.7,"x2":9.13,"y2":1.1},
{"c":"タイ","t":"総固定資本形成","tx":2.15,"ty":-6.1,"x1":2.7,"y1":-5.0,"x2":3.78,"y2":2.7},
{"c":"タイ","t":"民間消費","tx":5.64,"ty":-3.4,"x1":5.02,"y1":-2.6,"x2":4.33,"y2":0.6},
{"c":"タイ","t":"在庫投資","tx":10.14,"ty":-9.3,"x1":9.13,"y1":-9.6,"x2":8.4,"y2":-9.6},
{"c":"タイ","t":"誤差脱漏","tx":5.26,"ty":-13.2,"x1":6.65,"y1":-12.9,"x2":7.73,"y2":-11.9},
{"c":"マレーシア","t":"実質経済成長率","tx":1.62,"ty":13.9,"x1":1.46,"y1":12.7,"x2":1.46,"y2":6.7},
{"c":"マレーシア","t":"政府消費","tx":8.52,"ty":11.5,"x1":7.96,"y1":9.7,"x2":7.23,"y2":4.8},
{"c":"マレーシア","t":"純輸出","tx":10.28,"ty":6.7,"x1":9.32,"y1":5.2,"x2":8.28,"y2":4.1},
{"c":"マレーシア","t":"民間消費","tx":0.74,"ty":-7.0,"x1":0.9,"y1":-5.5,"x2":1.86,"y2":2.4},
{"c":"マレーシア","t":"総固定資本形成","tx":4.19,"ty":-5.5,"x1":5.71,"y1":-4.5,"x2":6.91,"y2":-0.9},
{"c":"マレーシア","t":"在庫投資","tx":5.87,"ty":-10.0,"x1":6.91,"y1":-10.0,"x2":7.71,"y2":-10.0},
{"c":"インドネシア","t":"実質経済成長率","tx":2.49,"ty":12.4,"x1":1.49,"y1":11.1,"x2":1.49,"y2":7.1},
{"c":"インドネシア","t":"在庫投資","tx":5.84,"ty":11.1,"x1":4.56,"y1":10.3,"x2":3.29,"y2":8.2},
{"c":"インドネシア","t":"純輸出","tx":8.7,"ty":11.6,"x1":9.26,"y1":9.5,"x2":9.9,"y2":7.9},
{"c":"インドネシア","t":"総固定資本形成","tx":1.22,"ty":-6.3,"x1":2.02,"y1":-4.9,"x2":2.81,"y2":4.5},
{"c":"インドネシア","t":"民間消費","tx":4.48,"ty":-6.3,"x1":4.72,"y1":-4.9,"x2":5.68,"y2":1.4},
{"c":"インドネシア","t":"誤差脱漏","tx":7.98,"ty":-6.8,"x1":7.59,"y1":-5.7,"x2":7.27,"y2":-3.1},
{"c":"インドネシア","t":"政府消費","tx":10.05,"ty":-6.1,"x1":9.1,"y1":-4.9,"x2":7.27,"y2":3.2},
{"c":"フィリピン","t":"純輸出","tx":3.53,"ty":14.1,"x1":4.32,"y1":11.4,"x2":4.8,"y2":9.1},
{"c":"フィリピン","t":"実質経済成長率","tx":6.85,"ty":16.3,"x1":6.51,"y1":14.1,"x2":6.51,"y2":5.0},
{"c":"フィリピン","t":"政府消費","tx":10.49,"ty":14.8,"x1":9.7,"y1":12.2,"x2":9.22,"y2":5.1},
{"c":"フィリピン","t":"民間消費","tx":3.93,"ty":-7.1,"x1":3.38,"y1":-5.6,"x2":2.35,"y2":2.1},
{"c":"フィリピン","t":"総固定資本形成","tx":3.69,"ty":-10.9,"x1":2.27,"y1":-9.3,"x2":1.32,"y2":6.9},
{"c":"フィリピン","t":"誤差脱漏","tx":1.09,"ty":-13.5,"x1":0.61,"y1":-12.0,"x2":0.21,"y2":-7.1},
{"c":"フィリピン","t":"在庫投資","tx":6.54,"ty":-12.4,"x1":7.49,"y1":-10.9,"x2":8.75,"y2":-0.7},
{"c":"オーストラリア","t":"実質経済成長率","tx":1.35,"ty":12.1,"x1":1.54,"y1":9.8,"x2":1.54,"y2":4.0},
{"c":"オーストラリア","t":"在庫投資","tx":5.14,"ty":10.2,"x1":4.09,"y1":9.4,"x2":3.21,"y2":8.4},
{"c":"オーストラリア","t":"純輸出","tx":9.75,"ty":14.5,"x1":9.18,"y1":12.1,"x2":8.29,"y2":8.6},
{"c":"オーストラリア","t":"民間消費","tx":1.11,"ty":-7.8,"x1":1.35,"y1":-6.1,"x2":1.83,"y2":1.0},
{"c":"オーストラリア","t":"政府消費","tx":3.93,"ty":-8.1,"x1":3.93,"y1":-6.8,"x2":4.9,"y2":0.7},
{"c":"オーストラリア","t":"誤差脱漏","tx":4.58,"ty":-11.3,"x1":5.71,"y1":-10.5,"x2":6.76,"y2":-8.2},
{"c":"オーストラリア","t":"総固定資本形成","tx":9.99,"ty":-11.3,"x1":9.5,"y1":-9.8,"x2":8.29,"y2":-3.4}
  ]
},
"columns": 2,
"spacing": {"row": 89, "column": 76},
"bounds": "flush",
"concat": [
  {"width": 216, "height": 154, "title": {"text": "韓国", "dx": 13, "offset": -11},
   "layer": [
    {"data": {"name": "bars"},
     "transform": [{"filter": "datum.c == '韓国'"}, {"lookup": "k", "from": {"data": {"name": "comp"}, "key": "k", "fields": ["o"]}}, {"stack": "v", "groupby": ["i"], "sort": [{"field": "o", "order": "ascending"}], "as": ["v0", "v1"]}],
     "encoding": {
      "x": {"field": "i", "type": "quantitative", "scale": {"domain": [-0.5, 10.5], "nice": false, "zero": false}, "axis": {"values": [-0.5,0,1,1.5,2,3,3.5,4,5,5.5,6,7,7.5,8,9,10,10.5], "tickCount": 100, "labelExpr": "datum.value==1.5?['','2007']:datum.value==5.5?['','08']:datum.value==9?['Q2','09']:datum.value==10.5?['(期)','(年)']:datum.value%1==0?'Q'+(datum.value%4+1):''", "title": null, "domain": false, "grid": false, "tickSize": 44, "tickColor": "black", "tickWidth": 1, "tickOpacity": {"condition": {"test": "datum.value==-0.5||datum.value==3.5||datum.value==7.5||datum.value==10.5", "value": 1}, "value": 0}, "labelPadding": -32, "labelLineHeight": 18, "labelBaseline": "top", "labelAlign": {"condition": {"test": "datum.value==10.5", "value": "left"}, "value": "center"}, "labelOffset": {"condition": {"test": "datum.value==10.5", "value": 3}, "value": 0}, "labelFlush": false, "labelOverlap": false, "labelBound": false}},
      "y": {"field": "v0", "type": "quantitative", "scale": {"domain": [-30, 30], "nice": false, "zero": false}, "axis": {"values": [-30,-20,-10,0,10,20,30], "tickCount": 100, "labelOverlap": false, "labelExpr": "''+datum.value", "title": "(前期比年率、%)", "titleX": -25, "titleY": -14}},
      "y2": {"field": "v1"}
     },
     "layer": [
      {"mark": {"type": "bar", "width": 11, "stroke": "black", "strokeWidth": 0.8}, "encoding": {"fill": {"field": "k", "type": "nominal", "scale": {"domain": ["民間","政府","固定","在庫","純輸出","誤差"], "range": ["#99CCFF","#000000","#FFFFFF","#FFFFFF","#FFFFFF","#FF00FF"]}, "legend": null}}},
      {"transform": [{"filter": "datum.k == '在庫'"}], "mark": {"type": "bar", "width": 11, "stroke": "black", "strokeWidth": 0.8, "fill": {"gradient": "linear", "x1": 0, "y1": 0, "x2": 1, "y2": 0, "stops": [{"offset": 0, "color": "#ffffff"}, {"offset": 0.22, "color": "#ffffff"}, {"offset": 0.22, "color": "#000080"}, {"offset": 0.31, "color": "#000080"}, {"offset": 0.31, "color": "#ffffff"}, {"offset": 0.46, "color": "#ffffff"}, {"offset": 0.46, "color": "#000080"}, {"offset": 0.55, "color": "#000080"}, {"offset": 0.55, "color": "#ffffff"}, {"offset": 0.7, "color": "#ffffff"}, {"offset": 0.7, "color": "#000080"}, {"offset": 0.79, "color": "#000080"}, {"offset": 0.79, "color": "#ffffff"}, {"offset": 1, "color": "#ffffff"}]}}},
      {"transform": [{"filter": "datum.k == '純輸出'"}], "mark": {"type": "bar", "width": 11, "stroke": "black", "strokeWidth": 0.8, "fill": {"gradient": "linear", "x1": 0, "y1": 0, "x2": 1, "y2": 1, "stops": [{"offset": 0, "color": "#ffffff"}, {"offset": 0.06, "color": "#ffffff"}, {"offset": 0.06, "color": "#000000"}, {"offset": 0.105, "color": "#000000"}, {"offset": 0.105, "color": "#ffffff"}, {"offset": 0.227, "color": "#ffffff"}, {"offset": 0.227, "color": "#000000"}, {"offset": 0.272, "color": "#000000"}, {"offset": 0.272, "color": "#ffffff"}, {"offset": 0.393, "color": "#ffffff"}, {"offset": 0.393, "color": "#000000"}, {"offset": 0.438, "color": "#000000"}, {"offset": 0.438, "color": "#ffffff"}, {"offset": 0.56, "color": "#ffffff"}, {"offset": 0.56, "color": "#000000"}, {"offset": 0.605, "color": "#000000"}, {"offset": 0.605, "color": "#ffffff"}, {"offset": 0.727, "color": "#ffffff"}, {"offset": 0.727, "color": "#000000"}, {"offset": 0.772, "color": "#000000"}, {"offset": 0.772, "color": "#ffffff"}, {"offset": 0.893, "color": "#ffffff"}, {"offset": 0.893, "color": "#000000"}, {"offset": 0.938, "color": "#000000"}, {"offset": 0.938, "color": "#ffffff"}, {"offset": 1, "color": "#ffffff"}]}}}
     ]},
    {"data": {"values": [{}]}, "mark": {"type": "rule", "color": "black", "strokeWidth": 1}, "encoding": {"y": {"datum": 0, "type": "quantitative"}}},
    {"data": {"name": "g"}, "transform": [{"filter": "datum.c == '韓国'"}], "mark": {"type": "line", "color": "#000080", "strokeWidth": 1, "point": {"filled": true, "size": 20, "color": "#000080"}}, "encoding": {"x": {"field": "i", "type": "quantitative"}, "y": {"field": "g", "type": "quantitative"}}},
    {"data": {"name": "notes"}, "transform": [{"filter": "datum.c == '韓国' && isValid(datum.x1)"}], "mark": {"type": "rule", "color": "black", "strokeWidth": 1}, "encoding": {"x": {"field": "x1", "type": "quantitative"}, "y": {"field": "y1", "type": "quantitative"}, "x2": {"field": "x2"}, "y2": {"field": "y2"}}},
    {"data": {"name": "notes"}, "transform": [{"filter": "datum.c == '韓国'"}], "mark": {"type": "text", "fontSize": 11, "color": "black"}, "encoding": {"x": {"field": "tx", "type": "quantitative"}, "y": {"field": "ty", "type": "quantitative"}, "text": {"field": "t"}}}
   ]},
  {"width": 235, "height": 154, "title": {"text": "台湾", "dx": 14, "offset": -13},
   "layer": [
    {"data": {"name": "bars"},
     "transform": [{"filter": "datum.c == '台湾'"}, {"lookup": "k", "from": {"data": {"name": "comp"}, "key": "k", "fields": ["o"]}}, {"stack": "v", "groupby": ["i"], "sort": [{"field": "o", "order": "ascending"}], "as": ["v0", "v1"]}],
     "encoding": {
      "x": {"field": "i", "type": "quantitative", "scale": {"domain": [-0.5, 10.5], "nice": false, "zero": false}, "axis": {"values": [-0.5,0,1,1.5,2,3,3.5,4,5,5.5,6,7,7.5,8,9,10,10.5], "tickCount": 100, "labelExpr": "datum.value==1.5?['','2007']:datum.value==5.5?['','08']:datum.value==9?['Q2','09']:datum.value==10.5?['(期)','(年)']:datum.value%1==0?'Q'+(datum.value%4+1):''", "title": null, "domain": false, "grid": false, "tickSize": 44, "tickColor": "black", "tickWidth": 1, "tickOpacity": {"condition": {"test": "datum.value==-0.5||datum.value==3.5||datum.value==7.5||datum.value==10.5", "value": 1}, "value": 0}, "labelPadding": -32, "labelLineHeight": 18, "labelBaseline": "top", "labelAlign": {"condition": {"test": "datum.value==10.5", "value": "left"}, "value": "center"}, "labelOffset": {"condition": {"test": "datum.value==10.5", "value": 3}, "value": 0}, "labelFlush": false, "labelOverlap": false, "labelBound": false}},
      "y": {"field": "v0", "type": "quantitative", "scale": {"domain": [-30, 30], "nice": false, "zero": false}, "axis": {"values": [-30,-20,-10,0,10,20,30], "tickCount": 100, "labelOverlap": false, "labelExpr": "''+datum.value", "title": "(前期比年率、%)", "titleX": -22, "titleY": -17.6}},
      "y2": {"field": "v1"}
     },
     "layer": [
      {"mark": {"type": "bar", "width": 11, "stroke": "black", "strokeWidth": 0.8}, "encoding": {"fill": {"field": "k", "type": "nominal", "scale": {"domain": ["民間","政府","固定","在庫","純輸出","誤差"], "range": ["#99CCFF","#000000","#FFFFFF","#FFFFFF","#FFFFFF","#FF00FF"]}, "legend": null}}},
      {"transform": [{"filter": "datum.k == '純輸出'"}], "mark": {"type": "bar", "width": 11, "stroke": "black", "strokeWidth": 0.8, "fill": {"gradient": "linear", "x1": 0, "y1": 0, "x2": 1, "y2": 1, "stops": [{"offset": 0, "color": "#ffffff"}, {"offset": 0.06, "color": "#ffffff"}, {"offset": 0.06, "color": "#000000"}, {"offset": 0.105, "color": "#000000"}, {"offset": 0.105, "color": "#ffffff"}, {"offset": 0.227, "color": "#ffffff"}, {"offset": 0.227, "color": "#000000"}, {"offset": 0.272, "color": "#000000"}, {"offset": 0.272, "color": "#ffffff"}, {"offset": 0.393, "color": "#ffffff"}, {"offset": 0.393, "color": "#000000"}, {"offset": 0.438, "color": "#000000"}, {"offset": 0.438, "color": "#ffffff"}, {"offset": 0.56, "color": "#ffffff"}, {"offset": 0.56, "color": "#000000"}, {"offset": 0.605, "color": "#000000"}, {"offset": 0.605, "color": "#ffffff"}, {"offset": 0.727, "color": "#ffffff"}, {"offset": 0.727, "color": "#000000"}, {"offset": 0.772, "color": "#000000"}, {"offset": 0.772, "color": "#ffffff"}, {"offset": 0.893, "color": "#ffffff"}, {"offset": 0.893, "color": "#000000"}, {"offset": 0.938, "color": "#000000"}, {"offset": 0.938, "color": "#ffffff"}, {"offset": 1, "color": "#ffffff"}]}}}
     ]},
    {"data": {"values": [{}]}, "mark": {"type": "rule", "color": "black", "strokeWidth": 1}, "encoding": {"y": {"datum": 0, "type": "quantitative"}}},
    {"data": {"name": "g"}, "transform": [{"filter": "datum.c == '台湾'"}], "mark": {"type": "line", "color": "#000080", "strokeWidth": 1, "point": {"filled": true, "size": 20, "color": "#000080"}}, "encoding": {"x": {"field": "i", "type": "quantitative"}, "y": {"field": "g", "type": "quantitative"}}},
    {"data": {"name": "notes"}, "transform": [{"filter": "datum.c == '台湾' && isValid(datum.x1)"}], "mark": {"type": "rule", "color": "black", "strokeWidth": 1}, "encoding": {"x": {"field": "x1", "type": "quantitative"}, "y": {"field": "y1", "type": "quantitative"}, "x2": {"field": "x2"}, "y2": {"field": "y2"}}},
    {"data": {"name": "notes"}, "transform": [{"filter": "datum.c == '台湾'"}], "mark": {"type": "text", "fontSize": 11, "color": "black"}, "encoding": {"x": {"field": "tx", "type": "quantitative"}, "y": {"field": "ty", "type": "quantitative"}, "text": {"field": "t"}}}
   ]},
  {"width": 223, "height": 153, "title": {"text": "シンガポール", "dx": 20, "offset": -8},
   "layer": [
    {"data": {"name": "bars"},
     "transform": [{"filter": "datum.c == 'シンガポール'"}, {"lookup": "k", "from": {"data": {"name": "comp"}, "key": "k", "fields": ["o"]}}, {"stack": "v", "groupby": ["i"], "sort": [{"field": "o", "order": "ascending"}], "as": ["v0", "v1"]}],
     "encoding": {
      "x": {"field": "i", "type": "quantitative", "scale": {"domain": [-0.5, 10.5], "nice": false, "zero": false}, "axis": {"values": [-0.5,0,1,1.5,2,3,3.5,4,5,5.5,6,7,7.5,8,9,10,10.5], "tickCount": 100, "labelExpr": "datum.value==1.5?['','2007']:datum.value==5.5?['','08']:datum.value==9?['Q2','09']:datum.value==10.5?['(期)','(年)']:datum.value%1==0?'Q'+(datum.value%4+1):''", "title": null, "domain": false, "grid": false, "tickSize": 44, "tickColor": "black", "tickWidth": 1, "tickOpacity": {"condition": {"test": "datum.value==-0.5||datum.value==3.5||datum.value==7.5||datum.value==10.5", "value": 1}, "value": 0}, "labelPadding": -32, "labelLineHeight": 18, "labelBaseline": "top", "labelAlign": {"condition": {"test": "datum.value==10.5", "value": "left"}, "value": "center"}, "labelOffset": {"condition": {"test": "datum.value==10.5", "value": 3}, "value": 0}, "labelFlush": false, "labelOverlap": false, "labelBound": false}},
      "y": {"field": "v0", "type": "quantitative", "scale": {"domain": [-20, 20], "nice": false, "zero": false}, "axis": {"values": [-20,-15,-10,-5,0,5,10,15,20], "tickCount": 100, "labelOverlap": false, "labelExpr": "''+datum.value", "title": "(前年比、%)", "titleX": -29, "titleY": -12.6}},
      "y2": {"field": "v1"}
     },
     "layer": [
      {"mark": {"type": "bar", "width": 11, "stroke": "black", "strokeWidth": 0.8}, "encoding": {"fill": {"field": "k", "type": "nominal", "scale": {"domain": ["民間","政府","固定","在庫","純輸出","誤差"], "range": ["#99CCFF","#000000","#FFFFFF","#FFFFFF","#FFFFFF","#FF00FF"]}, "legend": null}}},
      {"transform": [{"filter": "datum.k == '在庫'"}], "mark": {"type": "bar", "width": 11, "stroke": "black", "strokeWidth": 0.8, "fill": {"gradient": "linear", "x1": 0, "y1": 0, "x2": 1, "y2": 0, "stops": [{"offset": 0, "color": "#ffffff"}, {"offset": 0.22, "color": "#ffffff"}, {"offset": 0.22, "color": "#000080"}, {"offset": 0.31, "color": "#000080"}, {"offset": 0.31, "color": "#ffffff"}, {"offset": 0.46, "color": "#ffffff"}, {"offset": 0.46, "color": "#000080"}, {"offset": 0.55, "color": "#000080"}, {"offset": 0.55, "color": "#ffffff"}, {"offset": 0.7, "color": "#ffffff"}, {"offset": 0.7, "color": "#000080"}, {"offset": 0.79, "color": "#000080"}, {"offset": 0.79, "color": "#ffffff"}, {"offset": 1, "color": "#ffffff"}]}}},
      {"transform": [{"filter": "datum.k == '純輸出'"}], "mark": {"type": "bar", "width": 11, "stroke": "black", "strokeWidth": 0.8, "fill": {"gradient": "linear", "x1": 0, "y1": 0, "x2": 1, "y2": 1, "stops": [{"offset": 0, "color": "#ffffff"}, {"offset": 0.06, "color": "#ffffff"}, {"offset": 0.06, "color": "#000000"}, {"offset": 0.105, "color": "#000000"}, {"offset": 0.105, "color": "#ffffff"}, {"offset": 0.227, "color": "#ffffff"}, {"offset": 0.227, "color": "#000000"}, {"offset": 0.272, "color": "#000000"}, {"offset": 0.272, "color": "#ffffff"}, {"offset": 0.393, "color": "#ffffff"}, {"offset": 0.393, "color": "#000000"}, {"offset": 0.438, "color": "#000000"}, {"offset": 0.438, "color": "#ffffff"}, {"offset": 0.56, "color": "#ffffff"}, {"offset": 0.56, "color": "#000000"}, {"offset": 0.605, "color": "#000000"}, {"offset": 0.605, "color": "#ffffff"}, {"offset": 0.727, "color": "#ffffff"}, {"offset": 0.727, "color": "#000000"}, {"offset": 0.772, "color": "#000000"}, {"offset": 0.772, "color": "#ffffff"}, {"offset": 0.893, "color": "#ffffff"}, {"offset": 0.893, "color": "#000000"}, {"offset": 0.938, "color": "#000000"}, {"offset": 0.938, "color": "#ffffff"}, {"offset": 1, "color": "#ffffff"}]}}}
     ]},
    {"data": {"values": [{}]}, "mark": {"type": "rule", "color": "black", "strokeWidth": 1}, "encoding": {"y": {"datum": 0, "type": "quantitative"}}},
    {"data": {"name": "g"}, "transform": [{"filter": "datum.c == 'シンガポール'"}], "mark": {"type": "line", "color": "#000080", "strokeWidth": 1, "point": {"filled": true, "size": 20, "color": "#000080"}}, "encoding": {"x": {"field": "i", "type": "quantitative"}, "y": {"field": "g", "type": "quantitative"}}},
    {"data": {"name": "notes"}, "transform": [{"filter": "datum.c == 'シンガポール' && isValid(datum.x1)"}], "mark": {"type": "rule", "color": "black", "strokeWidth": 1}, "encoding": {"x": {"field": "x1", "type": "quantitative"}, "y": {"field": "y1", "type": "quantitative"}, "x2": {"field": "x2"}, "y2": {"field": "y2"}}},
    {"data": {"name": "notes"}, "transform": [{"filter": "datum.c == 'シンガポール'"}], "mark": {"type": "text", "fontSize": 11, "color": "black"}, "encoding": {"x": {"field": "tx", "type": "quantitative"}, "y": {"field": "ty", "type": "quantitative"}, "text": {"field": "t"}}}
   ]},
  {"width": 237, "height": 153, "title": {"text": "タイ", "dx": 16, "offset": -13},
   "layer": [
    {"data": {"name": "bars"},
     "transform": [{"filter": "datum.c == 'タイ'"}, {"lookup": "k", "from": {"data": {"name": "comp"}, "key": "k", "fields": ["o"]}}, {"stack": "v", "groupby": ["i"], "sort": [{"field": "o", "order": "ascending"}], "as": ["v0", "v1"]}],
     "encoding": {
      "x": {"field": "i", "type": "quantitative", "scale": {"domain": [-0.5, 10.5], "nice": false, "zero": false}, "axis": {"values": [-0.5,0,1,1.5,2,3,3.5,4,5,5.5,6,7,7.5,8,9,10,10.5], "tickCount": 100, "labelExpr": "datum.value==1.5?['','2007']:datum.value==5.5?['','08']:datum.value==9?['Q2','09']:datum.value==10.5?['(期)','(年)']:datum.value%1==0?'Q'+(datum.value%4+1):''", "title": null, "domain": false, "grid": false, "tickSize": 44, "tickColor": "black", "tickWidth": 1, "tickOpacity": {"condition": {"test": "datum.value==-0.5||datum.value==3.5||datum.value==7.5||datum.value==10.5", "value": 1}, "value": 0}, "labelPadding": -32, "labelLineHeight": 18, "labelBaseline": "top", "labelAlign": {"condition": {"test": "datum.value==10.5", "value": "left"}, "value": "center"}, "labelOffset": {"condition": {"test": "datum.value==10.5", "value": 3}, "value": 0}, "labelFlush": false, "labelOverlap": false, "labelBound": false}},
      "y": {"field": "v0", "type": "quantitative", "scale": {"domain": [-15, 10], "nice": false, "zero": false}, "axis": {"values": [-15,-10,-5,0,5,10], "tickCount": 100, "labelOverlap": false, "labelExpr": "''+datum.value", "title": "(前年比、%)", "titleX": -16, "titleY": -14}},
      "y2": {"field": "v1"}
     },
     "layer": [
      {"mark": {"type": "bar", "width": 11, "stroke": "black", "strokeWidth": 0.8}, "encoding": {"fill": {"field": "k", "type": "nominal", "scale": {"domain": ["民間","政府","固定","在庫","純輸出","誤差"], "range": ["#99CCFF","#000000","#FFFFFF","#FFFFFF","#FFFFFF","#FF00FF"]}, "legend": null}}},
      {"transform": [{"filter": "datum.k == '在庫'"}], "mark": {"type": "bar", "width": 11, "stroke": "black", "strokeWidth": 0.8, "fill": {"gradient": "linear", "x1": 0, "y1": 0, "x2": 1, "y2": 0, "stops": [{"offset": 0, "color": "#ffffff"}, {"offset": 0.22, "color": "#ffffff"}, {"offset": 0.22, "color": "#000080"}, {"offset": 0.31, "color": "#000080"}, {"offset": 0.31, "color": "#ffffff"}, {"offset": 0.46, "color": "#ffffff"}, {"offset": 0.46, "color": "#000080"}, {"offset": 0.55, "color": "#000080"}, {"offset": 0.55, "color": "#ffffff"}, {"offset": 0.7, "color": "#ffffff"}, {"offset": 0.7, "color": "#000080"}, {"offset": 0.79, "color": "#000080"}, {"offset": 0.79, "color": "#ffffff"}, {"offset": 1, "color": "#ffffff"}]}}},
      {"transform": [{"filter": "datum.k == '純輸出'"}], "mark": {"type": "bar", "width": 11, "stroke": "black", "strokeWidth": 0.8, "fill": {"gradient": "linear", "x1": 0, "y1": 0, "x2": 1, "y2": 1, "stops": [{"offset": 0, "color": "#ffffff"}, {"offset": 0.06, "color": "#ffffff"}, {"offset": 0.06, "color": "#000000"}, {"offset": 0.105, "color": "#000000"}, {"offset": 0.105, "color": "#ffffff"}, {"offset": 0.227, "color": "#ffffff"}, {"offset": 0.227, "color": "#000000"}, {"offset": 0.272, "color": "#000000"}, {"offset": 0.272, "color": "#ffffff"}, {"offset": 0.393, "color": "#ffffff"}, {"offset": 0.393, "color": "#000000"}, {"offset": 0.438, "color": "#000000"}, {"offset": 0.438, "color": "#ffffff"}, {"offset": 0.56, "color": "#ffffff"}, {"offset": 0.56, "color": "#000000"}, {"offset": 0.605, "color": "#000000"}, {"offset": 0.605, "color": "#ffffff"}, {"offset": 0.727, "color": "#ffffff"}, {"offset": 0.727, "color": "#000000"}, {"offset": 0.772, "color": "#000000"}, {"offset": 0.772, "color": "#ffffff"}, {"offset": 0.893, "color": "#ffffff"}, {"offset": 0.893, "color": "#000000"}, {"offset": 0.938, "color": "#000000"}, {"offset": 0.938, "color": "#ffffff"}, {"offset": 1, "color": "#ffffff"}]}}}
     ]},
    {"data": {"values": [{}]}, "mark": {"type": "rule", "color": "black", "strokeWidth": 1}, "encoding": {"y": {"datum": 0, "type": "quantitative"}}},
    {"data": {"name": "g"}, "transform": [{"filter": "datum.c == 'タイ'"}], "mark": {"type": "line", "color": "#000080", "strokeWidth": 1, "point": {"filled": true, "size": 20, "color": "#000080"}}, "encoding": {"x": {"field": "i", "type": "quantitative"}, "y": {"field": "g", "type": "quantitative"}}},
    {"data": {"name": "notes"}, "transform": [{"filter": "datum.c == 'タイ' && isValid(datum.x1)"}], "mark": {"type": "rule", "color": "black", "strokeWidth": 1}, "encoding": {"x": {"field": "x1", "type": "quantitative"}, "y": {"field": "y1", "type": "quantitative"}, "x2": {"field": "x2"}, "y2": {"field": "y2"}}},
    {"data": {"name": "notes"}, "transform": [{"filter": "datum.c == 'タイ'"}], "mark": {"type": "text", "fontSize": 11, "color": "black"}, "encoding": {"x": {"field": "tx", "type": "quantitative"}, "y": {"field": "ty", "type": "quantitative"}, "text": {"field": "t"}}}
   ]},
  {"width": 228, "height": 165, "title": {"text": "マレーシア", "dx": 9, "offset": -13},
   "layer": [
    {"data": {"name": "bars"},
     "transform": [{"filter": "datum.c == 'マレーシア'"}, {"lookup": "k", "from": {"data": {"name": "comp"}, "key": "k", "fields": ["o"]}}, {"stack": "v", "groupby": ["i"], "sort": [{"field": "o", "order": "ascending"}], "as": ["v0", "v1"]}],
     "encoding": {
      "x": {"field": "i", "type": "quantitative", "scale": {"domain": [-0.5, 10.5], "nice": false, "zero": false}, "axis": {"values": [-0.5,0,1,1.5,2,3,3.5,4,5,5.5,6,7,7.5,8,9,10,10.5], "tickCount": 100, "labelExpr": "datum.value==1.5?['','2007']:datum.value==5.5?['','08']:datum.value==9?['Q2','09']:datum.value==10.5?['(期)','(年)']:datum.value%1==0?'Q'+(datum.value%4+1):''", "title": null, "domain": false, "grid": false, "tickSize": 44, "tickColor": "black", "tickWidth": 1, "tickOpacity": {"condition": {"test": "datum.value==-0.5||datum.value==3.5||datum.value==7.5||datum.value==10.5", "value": 1}, "value": 0}, "labelPadding": -32, "labelLineHeight": 18, "labelBaseline": "top", "labelAlign": {"condition": {"test": "datum.value==10.5", "value": "left"}, "value": "center"}, "labelOffset": {"condition": {"test": "datum.value==10.5", "value": 3}, "value": 0}, "labelFlush": false, "labelOverlap": false, "labelBound": false}},
      "y": {"field": "v0", "type": "quantitative", "scale": {"domain": [-15, 15], "nice": false, "zero": false}, "axis": {"values": [-15,-10,-5,0,5,10,15], "tickCount": 100, "labelOverlap": false, "labelExpr": "''+datum.value", "title": "(前年比、%)", "titleX": -21, "titleY": -12.7}},
      "y2": {"field": "v1"}
     },
     "layer": [
      {"mark": {"type": "bar", "width": 11, "stroke": "black", "strokeWidth": 0.8}, "encoding": {"fill": {"field": "k", "type": "nominal", "scale": {"domain": ["民間","政府","固定","在庫","純輸出","誤差"], "range": ["#99CCFF","#000000","#FFFFFF","#FFFFFF","#FFFFFF","#FF00FF"]}, "legend": null}}},
      {"transform": [{"filter": "datum.k == '在庫'"}], "mark": {"type": "bar", "width": 11, "stroke": "black", "strokeWidth": 0.8, "fill": {"gradient": "linear", "x1": 0, "y1": 0, "x2": 1, "y2": 0, "stops": [{"offset": 0, "color": "#ffffff"}, {"offset": 0.22, "color": "#ffffff"}, {"offset": 0.22, "color": "#000080"}, {"offset": 0.31, "color": "#000080"}, {"offset": 0.31, "color": "#ffffff"}, {"offset": 0.46, "color": "#ffffff"}, {"offset": 0.46, "color": "#000080"}, {"offset": 0.55, "color": "#000080"}, {"offset": 0.55, "color": "#ffffff"}, {"offset": 0.7, "color": "#ffffff"}, {"offset": 0.7, "color": "#000080"}, {"offset": 0.79, "color": "#000080"}, {"offset": 0.79, "color": "#ffffff"}, {"offset": 1, "color": "#ffffff"}]}}},
      {"transform": [{"filter": "datum.k == '純輸出'"}], "mark": {"type": "bar", "width": 11, "stroke": "black", "strokeWidth": 0.8, "fill": {"gradient": "linear", "x1": 0, "y1": 0, "x2": 1, "y2": 1, "stops": [{"offset": 0, "color": "#ffffff"}, {"offset": 0.06, "color": "#ffffff"}, {"offset": 0.06, "color": "#000000"}, {"offset": 0.105, "color": "#000000"}, {"offset": 0.105, "color": "#ffffff"}, {"offset": 0.227, "color": "#ffffff"}, {"offset": 0.227, "color": "#000000"}, {"offset": 0.272, "color": "#000000"}, {"offset": 0.272, "color": "#ffffff"}, {"offset": 0.393, "color": "#ffffff"}, {"offset": 0.393, "color": "#000000"}, {"offset": 0.438, "color": "#000000"}, {"offset": 0.438, "color": "#ffffff"}, {"offset": 0.56, "color": "#ffffff"}, {"offset": 0.56, "color": "#000000"}, {"offset": 0.605, "color": "#000000"}, {"offset": 0.605, "color": "#ffffff"}, {"offset": 0.727, "color": "#ffffff"}, {"offset": 0.727, "color": "#000000"}, {"offset": 0.772, "color": "#000000"}, {"offset": 0.772, "color": "#ffffff"}, {"offset": 0.893, "color": "#ffffff"}, {"offset": 0.893, "color": "#000000"}, {"offset": 0.938, "color": "#000000"}, {"offset": 0.938, "color": "#ffffff"}, {"offset": 1, "color": "#ffffff"}]}}}
     ]},
    {"data": {"values": [{}]}, "mark": {"type": "rule", "color": "black", "strokeWidth": 1}, "encoding": {"y": {"datum": 0, "type": "quantitative"}}},
    {"data": {"name": "g"}, "transform": [{"filter": "datum.c == 'マレーシア'"}], "mark": {"type": "line", "color": "#000080", "strokeWidth": 1, "point": {"filled": true, "size": 20, "color": "#000080"}}, "encoding": {"x": {"field": "i", "type": "quantitative"}, "y": {"field": "g", "type": "quantitative"}}},
    {"data": {"name": "notes"}, "transform": [{"filter": "datum.c == 'マレーシア' && isValid(datum.x1)"}], "mark": {"type": "rule", "color": "black", "strokeWidth": 1}, "encoding": {"x": {"field": "x1", "type": "quantitative"}, "y": {"field": "y1", "type": "quantitative"}, "x2": {"field": "x2"}, "y2": {"field": "y2"}}},
    {"data": {"name": "notes"}, "transform": [{"filter": "datum.c == 'マレーシア'"}], "mark": {"type": "text", "fontSize": 11, "color": "black"}, "encoding": {"x": {"field": "tx", "type": "quantitative"}, "y": {"field": "ty", "type": "quantitative"}, "text": {"field": "t"}}}
   ]},
  {"width": 231, "height": 159, "title": {"text": "インドネシア", "dx": 10, "offset": -13},
   "layer": [
    {"data": {"name": "bars"},
     "transform": [{"filter": "datum.c == 'インドネシア'"}, {"lookup": "k", "from": {"data": {"name": "comp"}, "key": "k", "fields": ["o"]}}, {"stack": "v", "groupby": ["i"], "sort": [{"field": "o", "order": "ascending"}], "as": ["v0", "v1"]}],
     "encoding": {
      "x": {"field": "i", "type": "quantitative", "scale": {"domain": [-0.5, 10.5], "nice": false, "zero": false}, "axis": {"values": [-0.5,0,1,1.5,2,3,3.5,4,5,5.5,6,7,7.5,8,9,10,10.5], "tickCount": 100, "labelExpr": "datum.value==1.5?['','2007']:datum.value==5.5?['','08']:datum.value==9?['Q2','09']:datum.value==10.5?['(期)','(年)']:datum.value%1==0?'Q'+(datum.value%4+1):''", "title": null, "domain": false, "grid": false, "tickSize": 44, "tickColor": "black", "tickWidth": 1, "tickOpacity": {"condition": {"test": "datum.value==-0.5||datum.value==3.5||datum.value==7.5||datum.value==10.5", "value": 1}, "value": 0}, "labelPadding": -32, "labelLineHeight": 18, "labelBaseline": "top", "labelAlign": {"condition": {"test": "datum.value==10.5", "value": "left"}, "value": "center"}, "labelOffset": {"condition": {"test": "datum.value==10.5", "value": 3}, "value": 0}, "labelFlush": false, "labelOverlap": false, "labelBound": false}},
      "y": {"field": "v0", "type": "quantitative", "scale": {"domain": [-10, 15], "nice": false, "zero": false}, "axis": {"values": [-10,-5,0,5,10,15], "tickCount": 100, "labelOverlap": false, "labelExpr": "''+datum.value", "title": "(前年比、%)", "titleX": -9, "titleY": -15}},
      "y2": {"field": "v1"}
     },
     "layer": [
      {"mark": {"type": "bar", "width": 11, "stroke": "black", "strokeWidth": 0.8}, "encoding": {"fill": {"field": "k", "type": "nominal", "scale": {"domain": ["民間","政府","固定","在庫","純輸出","誤差"], "range": ["#99CCFF","#000000","#FFFFFF","#FFFFFF","#FFFFFF","#FF00FF"]}, "legend": null}}},
      {"transform": [{"filter": "datum.k == '在庫'"}], "mark": {"type": "bar", "width": 11, "stroke": "black", "strokeWidth": 0.8, "fill": {"gradient": "linear", "x1": 0, "y1": 0, "x2": 1, "y2": 0, "stops": [{"offset": 0, "color": "#ffffff"}, {"offset": 0.22, "color": "#ffffff"}, {"offset": 0.22, "color": "#000080"}, {"offset": 0.31, "color": "#000080"}, {"offset": 0.31, "color": "#ffffff"}, {"offset": 0.46, "color": "#ffffff"}, {"offset": 0.46, "color": "#000080"}, {"offset": 0.55, "color": "#000080"}, {"offset": 0.55, "color": "#ffffff"}, {"offset": 0.7, "color": "#ffffff"}, {"offset": 0.7, "color": "#000080"}, {"offset": 0.79, "color": "#000080"}, {"offset": 0.79, "color": "#ffffff"}, {"offset": 1, "color": "#ffffff"}]}}},
      {"transform": [{"filter": "datum.k == '純輸出'"}], "mark": {"type": "bar", "width": 11, "stroke": "black", "strokeWidth": 0.8, "fill": {"gradient": "linear", "x1": 0, "y1": 0, "x2": 1, "y2": 1, "stops": [{"offset": 0, "color": "#ffffff"}, {"offset": 0.06, "color": "#ffffff"}, {"offset": 0.06, "color": "#000000"}, {"offset": 0.105, "color": "#000000"}, {"offset": 0.105, "color": "#ffffff"}, {"offset": 0.227, "color": "#ffffff"}, {"offset": 0.227, "color": "#000000"}, {"offset": 0.272, "color": "#000000"}, {"offset": 0.272, "color": "#ffffff"}, {"offset": 0.393, "color": "#ffffff"}, {"offset": 0.393, "color": "#000000"}, {"offset": 0.438, "color": "#000000"}, {"offset": 0.438, "color": "#ffffff"}, {"offset": 0.56, "color": "#ffffff"}, {"offset": 0.56, "color": "#000000"}, {"offset": 0.605, "color": "#000000"}, {"offset": 0.605, "color": "#ffffff"}, {"offset": 0.727, "color": "#ffffff"}, {"offset": 0.727, "color": "#000000"}, {"offset": 0.772, "color": "#000000"}, {"offset": 0.772, "color": "#ffffff"}, {"offset": 0.893, "color": "#ffffff"}, {"offset": 0.893, "color": "#000000"}, {"offset": 0.938, "color": "#000000"}, {"offset": 0.938, "color": "#ffffff"}, {"offset": 1, "color": "#ffffff"}]}}}
     ]},
    {"data": {"values": [{}]}, "mark": {"type": "rule", "color": "black", "strokeWidth": 1}, "encoding": {"y": {"datum": 0, "type": "quantitative"}}},
    {"data": {"name": "g"}, "transform": [{"filter": "datum.c == 'インドネシア'"}], "mark": {"type": "line", "color": "#000080", "strokeWidth": 1, "point": {"filled": true, "size": 20, "color": "#000080"}}, "encoding": {"x": {"field": "i", "type": "quantitative"}, "y": {"field": "g", "type": "quantitative"}}},
    {"data": {"name": "notes"}, "transform": [{"filter": "datum.c == 'インドネシア' && isValid(datum.x1)"}], "mark": {"type": "rule", "color": "black", "strokeWidth": 1}, "encoding": {"x": {"field": "x1", "type": "quantitative"}, "y": {"field": "y1", "type": "quantitative"}, "x2": {"field": "x2"}, "y2": {"field": "y2"}}},
    {"data": {"name": "notes"}, "transform": [{"filter": "datum.c == 'インドネシア'"}], "mark": {"type": "text", "fontSize": 11, "color": "black"}, "encoding": {"x": {"field": "tx", "type": "quantitative"}, "y": {"field": "ty", "type": "quantitative"}, "text": {"field": "t"}}}
   ]},
  {"width": 231, "height": 154, "title": {"text": "フィリピン", "dx": 10, "offset": -16},
   "layer": [
    {"data": {"name": "bars"},
     "transform": [{"filter": "datum.c == 'フィリピン'"}, {"lookup": "k", "from": {"data": {"name": "comp"}, "key": "k", "fields": ["o"]}}, {"stack": "v", "groupby": ["i"], "sort": [{"field": "o", "order": "ascending"}], "as": ["v0", "v1"]}],
     "encoding": {
      "x": {"field": "i", "type": "quantitative", "scale": {"domain": [-0.5, 10.5], "nice": false, "zero": false}, "axis": {"values": [-0.5,0,1,1.5,2,3,3.5,4,5,5.5,6,7,7.5,8,9,10,10.5], "tickCount": 100, "labelExpr": "datum.value==1.5?['','2007']:datum.value==5.5?['','08']:datum.value==9?['Q2','09']:datum.value==10.5?['(期)','(年)']:datum.value%1==0?'Q'+(datum.value%4+1):''", "title": null, "domain": false, "grid": false, "tickSize": 44, "tickColor": "black", "tickWidth": 1, "tickOpacity": {"condition": {"test": "datum.value==-0.5||datum.value==3.5||datum.value==7.5||datum.value==10.5", "value": 1}, "value": 0}, "labelPadding": -32, "labelLineHeight": 18, "labelBaseline": "top", "labelAlign": {"condition": {"test": "datum.value==10.5", "value": "left"}, "value": "center"}, "labelOffset": {"condition": {"test": "datum.value==10.5", "value": 3}, "value": 0}, "labelFlush": false, "labelOverlap": false, "labelBound": false}},
      "y": {"field": "v0", "type": "quantitative", "scale": {"domain": [-15, 20], "nice": false, "zero": false}, "axis": {"values": [-15,-10,-5,0,5,10,15,20], "tickCount": 100, "labelOverlap": false, "labelExpr": "''+datum.value", "title": "(前年比、%)", "titleX": -17, "titleY": -13.4}},
      "y2": {"field": "v1"}
     },
     "layer": [
      {"mark": {"type": "bar", "width": 11, "stroke": "black", "strokeWidth": 0.8}, "encoding": {"fill": {"field": "k", "type": "nominal", "scale": {"domain": ["民間","政府","固定","在庫","純輸出","誤差"], "range": ["#99CCFF","#000000","#FFFFFF","#FFFFFF","#FFFFFF","#FF00FF"]}, "legend": null}}},
      {"transform": [{"filter": "datum.k == '在庫'"}], "mark": {"type": "bar", "width": 11, "stroke": "black", "strokeWidth": 0.8, "fill": {"gradient": "linear", "x1": 0, "y1": 0, "x2": 1, "y2": 0, "stops": [{"offset": 0, "color": "#ffffff"}, {"offset": 0.22, "color": "#ffffff"}, {"offset": 0.22, "color": "#000080"}, {"offset": 0.31, "color": "#000080"}, {"offset": 0.31, "color": "#ffffff"}, {"offset": 0.46, "color": "#ffffff"}, {"offset": 0.46, "color": "#000080"}, {"offset": 0.55, "color": "#000080"}, {"offset": 0.55, "color": "#ffffff"}, {"offset": 0.7, "color": "#ffffff"}, {"offset": 0.7, "color": "#000080"}, {"offset": 0.79, "color": "#000080"}, {"offset": 0.79, "color": "#ffffff"}, {"offset": 1, "color": "#ffffff"}]}}},
      {"transform": [{"filter": "datum.k == '純輸出'"}], "mark": {"type": "bar", "width": 11, "stroke": "black", "strokeWidth": 0.8, "fill": {"gradient": "linear", "x1": 0, "y1": 0, "x2": 1, "y2": 1, "stops": [{"offset": 0, "color": "#ffffff"}, {"offset": 0.06, "color": "#ffffff"}, {"offset": 0.06, "color": "#000000"}, {"offset": 0.105, "color": "#000000"}, {"offset": 0.105, "color": "#ffffff"}, {"offset": 0.227, "color": "#ffffff"}, {"offset": 0.227, "color": "#000000"}, {"offset": 0.272, "color": "#000000"}, {"offset": 0.272, "color": "#ffffff"}, {"offset": 0.393, "color": "#ffffff"}, {"offset": 0.393, "color": "#000000"}, {"offset": 0.438, "color": "#000000"}, {"offset": 0.438, "color": "#ffffff"}, {"offset": 0.56, "color": "#ffffff"}, {"offset": 0.56, "color": "#000000"}, {"offset": 0.605, "color": "#000000"}, {"offset": 0.605, "color": "#ffffff"}, {"offset": 0.727, "color": "#ffffff"}, {"offset": 0.727, "color": "#000000"}, {"offset": 0.772, "color": "#000000"}, {"offset": 0.772, "color": "#ffffff"}, {"offset": 0.893, "color": "#ffffff"}, {"offset": 0.893, "color": "#000000"}, {"offset": 0.938, "color": "#000000"}, {"offset": 0.938, "color": "#ffffff"}, {"offset": 1, "color": "#ffffff"}]}}}
     ]},
    {"data": {"values": [{}]}, "mark": {"type": "rule", "color": "black", "strokeWidth": 1}, "encoding": {"y": {"datum": 0, "type": "quantitative"}}},
    {"data": {"name": "g"}, "transform": [{"filter": "datum.c == 'フィリピン'"}], "mark": {"type": "line", "color": "#000080", "strokeWidth": 1, "point": {"filled": true, "size": 20, "color": "#000080"}}, "encoding": {"x": {"field": "i", "type": "quantitative"}, "y": {"field": "g", "type": "quantitative"}}},
    {"data": {"name": "notes"}, "transform": [{"filter": "datum.c == 'フィリピン' && isValid(datum.x1)"}], "mark": {"type": "rule", "color": "black", "strokeWidth": 1}, "encoding": {"x": {"field": "x1", "type": "quantitative"}, "y": {"field": "y1", "type": "quantitative"}, "x2": {"field": "x2"}, "y2": {"field": "y2"}}},
    {"data": {"name": "notes"}, "transform": [{"filter": "datum.c == 'フィリピン'"}], "mark": {"type": "text", "fontSize": 11, "color": "black"}, "encoding": {"x": {"field": "tx", "type": "quantitative"}, "y": {"field": "ty", "type": "quantitative"}, "text": {"field": "t"}}}
   ]},
  {"width": 228, "height": 148, "title": {"text": "オーストラリア", "dx": 14, "offset": -7},
   "layer": [
    {"data": {"name": "bars"},
     "transform": [{"filter": "datum.c == 'オーストラリア'"}, {"lookup": "k", "from": {"data": {"name": "comp"}, "key": "k", "fields": ["o"]}}, {"stack": "v", "groupby": ["i"], "sort": [{"field": "o", "order": "ascending"}], "as": ["v0", "v1"]}],
     "encoding": {
      "x": {"field": "i", "type": "quantitative", "scale": {"domain": [-0.5, 10.5], "nice": false, "zero": false}, "axis": {"values": [-0.5,0,1,1.5,2,3,3.5,4,5,5.5,6,7,7.5,8,9,10,10.5], "tickCount": 100, "labelExpr": "datum.value==1.5?['','2007']:datum.value==5.5?['','08']:datum.value==9?['Q2','09']:datum.value==10.5?['(期)','(年)']:datum.value%1==0?'Q'+(datum.value%4+1):''", "title": null, "domain": false, "grid": false, "tickSize": 44, "tickColor": "black", "tickWidth": 1, "tickOpacity": {"condition": {"test": "datum.value==-0.5||datum.value==3.5||datum.value==7.5||datum.value==10.5", "value": 1}, "value": 0}, "labelPadding": -32, "labelLineHeight": 18, "labelBaseline": "top", "labelAlign": {"condition": {"test": "datum.value==10.5", "value": "left"}, "value": "center"}, "labelOffset": {"condition": {"test": "datum.value==10.5", "value": 3}, "value": 0}, "labelFlush": false, "labelOverlap": false, "labelBound": false}},
      "y": {"field": "v0", "type": "quantitative", "scale": {"domain": [-15, 15], "nice": false, "zero": false}, "axis": {"values": [-15,-10,-5,0,5,10,15], "tickCount": 100, "labelOverlap": false, "labelExpr": "''+datum.value", "title": "(前期比年率、%)", "titleX": -27, "titleY": -18.3}},
      "y2": {"field": "v1"}
     },
     "layer": [
      {"mark": {"type": "bar", "width": 11, "stroke": "black", "strokeWidth": 0.8}, "encoding": {"fill": {"field": "k", "type": "nominal", "scale": {"domain": ["民間","政府","固定","在庫","純輸出","誤差"], "range": ["#99CCFF","#000000","#FFFFFF","#FFFFFF","#FFFFFF","#FF00FF"]}, "legend": null}}},
      {"transform": [{"filter": "datum.k == '在庫'"}], "mark": {"type": "bar", "width": 11, "stroke": "black", "strokeWidth": 0.8, "fill": {"gradient": "linear", "x1": 0, "y1": 0, "x2": 1, "y2": 0, "stops": [{"offset": 0, "color": "#ffffff"}, {"offset": 0.22, "color": "#ffffff"}, {"offset": 0.22, "color": "#000080"}, {"offset": 0.31, "color": "#000080"}, {"offset": 0.31, "color": "#ffffff"}, {"offset": 0.46, "color": "#ffffff"}, {"offset": 0.46, "color": "#000080"}, {"offset": 0.55, "color": "#000080"}, {"offset": 0.55, "color": "#ffffff"}, {"offset": 0.7, "color": "#ffffff"}, {"offset": 0.7, "color": "#000080"}, {"offset": 0.79, "color": "#000080"}, {"offset": 0.79, "color": "#ffffff"}, {"offset": 1, "color": "#ffffff"}]}}},
      {"transform": [{"filter": "datum.k == '純輸出'"}], "mark": {"type": "bar", "width": 11, "stroke": "black", "strokeWidth": 0.8, "fill": {"gradient": "linear", "x1": 0, "y1": 0, "x2": 1, "y2": 1, "stops": [{"offset": 0, "color": "#ffffff"}, {"offset": 0.06, "color": "#ffffff"}, {"offset": 0.06, "color": "#000000"}, {"offset": 0.105, "color": "#000000"}, {"offset": 0.105, "color": "#ffffff"}, {"offset": 0.227, "color": "#ffffff"}, {"offset": 0.227, "color": "#000000"}, {"offset": 0.272, "color": "#000000"}, {"offset": 0.272, "color": "#ffffff"}, {"offset": 0.393, "color": "#ffffff"}, {"offset": 0.393, "color": "#000000"}, {"offset": 0.438, "color": "#000000"}, {"offset": 0.438, "color": "#ffffff"}, {"offset": 0.56, "color": "#ffffff"}, {"offset": 0.56, "color": "#000000"}, {"offset": 0.605, "color": "#000000"}, {"offset": 0.605, "color": "#ffffff"}, {"offset": 0.727, "color": "#ffffff"}, {"offset": 0.727, "color": "#000000"}, {"offset": 0.772, "color": "#000000"}, {"offset": 0.772, "color": "#ffffff"}, {"offset": 0.893, "color": "#ffffff"}, {"offset": 0.893, "color": "#000000"}, {"offset": 0.938, "color": "#000000"}, {"offset": 0.938, "color": "#ffffff"}, {"offset": 1, "color": "#ffffff"}]}}}
     ]},
    {"data": {"values": [{}]}, "mark": {"type": "rule", "color": "black", "strokeWidth": 1}, "encoding": {"y": {"datum": 0, "type": "quantitative"}}},
    {"data": {"name": "g"}, "transform": [{"filter": "datum.c == 'オーストラリア'"}], "mark": {"type": "line", "color": "#000080", "strokeWidth": 1, "point": {"filled": true, "size": 20, "color": "#000080"}}, "encoding": {"x": {"field": "i", "type": "quantitative"}, "y": {"field": "g", "type": "quantitative"}}},
    {"data": {"name": "notes"}, "transform": [{"filter": "datum.c == 'オーストラリア' && isValid(datum.x1)"}], "mark": {"type": "rule", "color": "black", "strokeWidth": 1}, "encoding": {"x": {"field": "x1", "type": "quantitative"}, "y": {"field": "y1", "type": "quantitative"}, "x2": {"field": "x2"}, "y2": {"field": "y2"}}},
    {"data": {"name": "notes"}, "transform": [{"filter": "datum.c == 'オーストラリア'"}], "mark": {"type": "text", "fontSize": 11, "color": "black"}, "encoding": {"x": {"field": "tx", "type": "quantitative"}, "y": {"field": "ty", "type": "quantitative"}, "text": {"field": "t"}}}
   ]}
]
}
